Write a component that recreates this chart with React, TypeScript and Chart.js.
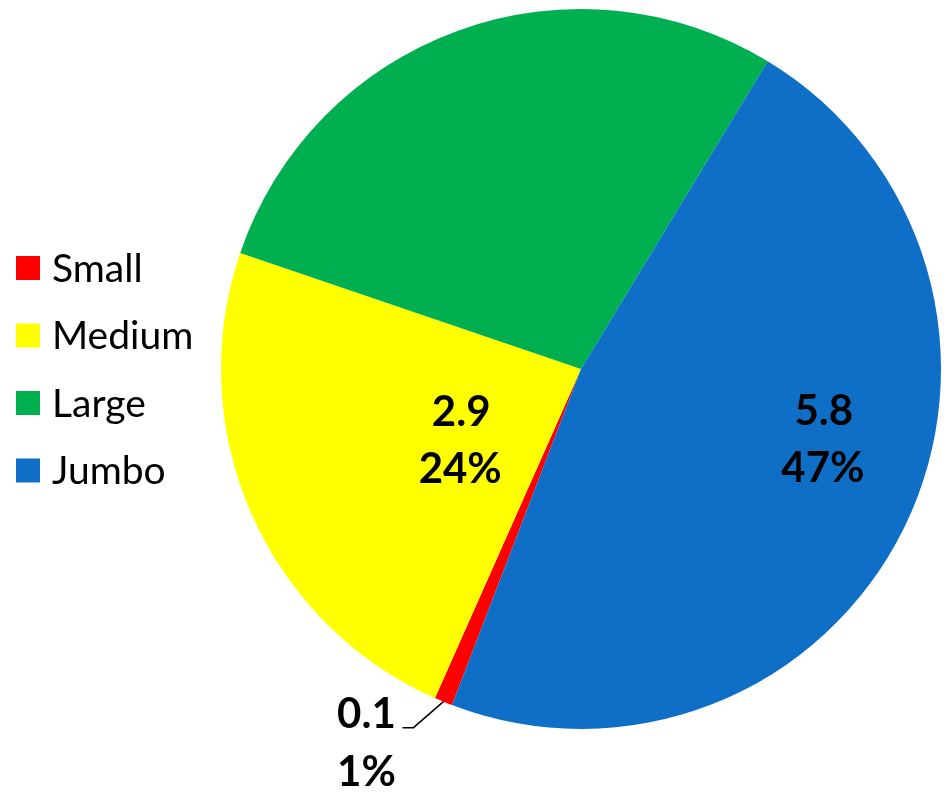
import React, { useEffect, useRef } from "react";
import { Chart, registerables } from "chart.js";

Chart.register(...registerables);

const categories = ["Small", "Medium", "Large", "Jumbo"];
const values = [0.1, 2.9, 3.5, 5.8];
const colors = ["#FF0000", "#FFFF00", "#00B050", "#0F6FC6"];
const labelShown = [true, true, false, true];

const FONT = "Lato, 'Liberation Sans', sans-serif";

const labelPlugin = {
  id: "customLabels",
  afterDatasetsDraw(chart: any) {
    const ctx = chart.ctx as CanvasRenderingContext2D;
    const meta = chart.getDatasetMeta(0);
    const total = values.reduce((a, b) => a + b, 0);
    const deg = Math.PI / 180;
    ctx.save();
    ctx.fillStyle = "#000";
    ctx.font = `bold 42px ${FONT}`;
    ctx.textAlign = "center";
    ctx.textBaseline = "middle";
    meta.data.forEach((arc: any, i: number) => {
      if (!labelShown[i]) return;
      const p = arc.getProps(["x", "y", "startAngle", "endAngle", "outerRadius"], true);
      const mid = (p.startAngle + p.endAngle) / 2;
      const v1 = values[i].toFixed(1);
      const v2 = Math.round((values[i] / total) * 100) + "%";
      if (i === 0) {
        const ex = p.x + p.outerRadius * Math.cos(mid);
        const ey = p.y + p.outerRadius * Math.sin(mid);
        const bx = ex - 30;
        const by = ey + 26;
        const cx = bx - 11;
        ctx.strokeStyle = "#000";
        ctx.lineWidth = 1.5;
        ctx.beginPath();
        ctx.moveTo(ex, ey);
        ctx.lineTo(bx, by);
        ctx.lineTo(cx, by);
        ctx.stroke();
        ctx.fillText(v1, cx - 36, by - 13);
        ctx.fillText(v2, cx - 36, by + 45);
      } else {
        const cfg = i === 3 ? { da: -9.8, rf: 0.70 } : { da: -7.0, rf: 0.39 };
        const a = mid + cfg.da * deg;
        const lx = p.x + p.outerRadius * cfg.rf * Math.cos(a);
        const ly = p.y + p.outerRadius * cfg.rf * Math.sin(a);
        ctx.fillText(v1, lx + 1, ly - 28);
        ctx.fillText(v2, lx, ly + 29);
      }
    });
    ctx.font = `39px ${FONT}`;
    ctx.textAlign = "left";
    ctx.textBaseline = "middle";
    categories.forEach((c, i) => {
      const cy = 268 + i * 67.5;
      ctx.fillStyle = colors[i];
      ctx.fillRect(16, cy - 12, 24, 24);
      ctx.fillStyle = "#000";
      ctx.fillText(c, 52, cy + 1);
    });
    ctx.restore();
  },
};

export default function App() {
  const ref = useRef<HTMLCanvasElement>(null);
  useEffect(() => {
    document.body.style.margin = "0";
    const chart = new Chart(ref.current!, {
      type: "pie",
      data: {
        labels: categories,
        datasets: [
          {
            data: values,
            backgroundColor: colors,
            borderWidth: 0,
          },
        ],
      },
      options: {
        animation: false,
        responsive: false,
        rotation: 201,
        layout: { padding: { left: 221, right: 7, top: 9, bottom: 63 } },
        plugins: { legend: { display: false }, tooltip: { enabled: false } },
      },
      plugins: [labelPlugin],
    });
    return () => chart.destroy();
  }, []);
  return (
    <div style={{ position: "absolute", left: 0, top: 0, width: 948, height: 792 }}>
      <canvas ref={ref} width={948} height={792} style={{ width: 948, height: 792 }} />
    </div>
  );
}
